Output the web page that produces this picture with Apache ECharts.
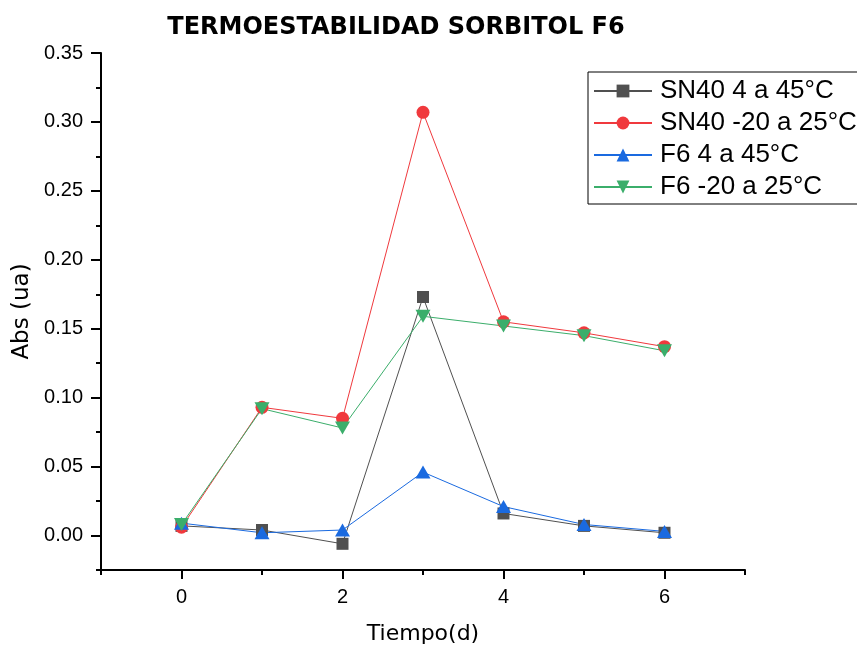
<!DOCTYPE html>
<html>
<head>
<meta charset="utf-8">
<script src="https://cdn.jsdelivr.net/npm/echarts@6/dist/echarts.min.js"></script>
<style>
  html, body { margin: 0; padding: 0; background: #fff; }
  #main { width: 857px; height: 651px; }
</style>
</head>
<body>
<div id="main"></div>
<script>
// datos
var dias = [0, 1, 2, 3, 4, 5, 6];
var sn40_4a45 = [0.007, 0.004, -0.006, 0.173, 0.016, 0.007, 0.002];
var sn40_m20a25 = [0.006, 0.093, 0.085, 0.307, 0.155, 0.147, 0.137];
var f6_4a45 = [0.009, 0.002, 0.004, 0.046, 0.021, 0.008, 0.003];
var f6_m20a25 = [0.008, 0.092, 0.078, 0.159, 0.152, 0.145, 0.134];

var xMayores = [0, 2, 4, 6];
var xMenores = [-1, 1, 3, 5, 7];
var yMayores = [0, 0.05, 0.10, 0.15, 0.20, 0.25, 0.30, 0.35];
var yMenores = [-0.025, 0.025, 0.075, 0.125, 0.175, 0.225, 0.275, 0.325];

function pares(ys) {
    return dias.map(function (d, i) { return [d, ys[i]]; });
}

var fuente = 'DejaVu Sans, sans-serif';
var fuenteArial = 'Liberation Sans, Arial, sans-serif';
var myChart = echarts.init(document.getElementById('main'));

function serie(nombre, ys, color, simbolo, rot, tam) {
    return {
        name: nombre,
        type: 'line',
        data: pares(ys),
        symbol: simbolo,
        symbolSize: tam,
        symbolRotate: rot,
        showAllSymbol: true,
        lineStyle: { color: color, width: 1 },
        itemStyle: { color: color },
        emphasis: { disabled: true },
        z: 3
    };
}

var ejeLinea = { onZero: false, lineStyle: { color: '#000', width: 2 } };

myChart.setOption({
    backgroundColor: '#fff',
    animation: false,
    title: {
        text: 'TERMOESTABILIDAD SORBITOL F6',
        left: 391, top: 11, textAlign: 'center',
        textStyle: { fontFamily: fuente, fontSize: 24, fontWeight: 'bold', color: '#000' }
    },
    legend: {
        left: 588, top: 72,
        orient: 'vertical',
        itemWidth: 58, itemHeight: 16, itemGap: 6,
        padding: [6, 4, 4, 5],
        borderColor: '#000', borderWidth: 1,
        backgroundColor: '#fff',
        textStyle: { fontFamily: fuenteArial, fontSize: 26, lineHeight: 26, color: '#000', padding: [0, 0, 0, 3] },
        data: ['SN40 4 a 45°C', 'SN40 -20 a 25°C', 'F6 4 a 45°C', 'F6 -20 a 25°C']
    },
    grid: { left: 101, right: 112, top: 53, bottom: 81 },
    xAxis: [{
        type: 'value', min: -1, max: 7,
        name: 'Tiempo(d)', nameLocation: 'middle', nameGap: 53,
        nameTextStyle: { fontFamily: fuente, fontSize: 22, color: '#000' },
        axisLine: ejeLinea,
        axisTick: { customValues: xMayores, length: 9, lineStyle: { color: '#000', width: 2 } },
        axisLabel: { customValues: xMayores, fontFamily: fuenteArial, fontSize: 20, color: '#000', margin: 17 },
        splitLine: { show: false }
    }, {
        type: 'value', min: -1, max: 7, position: 'bottom',
        axisLine: { show: false, onZero: false },
        axisTick: { customValues: xMenores, length: 5, lineStyle: { color: '#000', width: 2 } },
        axisLabel: { show: false },
        splitLine: { show: false }
    }],
    yAxis: [{
        type: 'value', min: -0.025, max: 0.35,
        name: 'Abs (ua)', nameLocation: 'middle', nameGap: 67,
        nameTextStyle: { fontFamily: fuente, fontSize: 23, color: '#000' },
        axisLine: ejeLinea,
        axisTick: { customValues: yMayores, length: 10, lineStyle: { color: '#000', width: 2 } },
        axisLabel: {
            customValues: yMayores, fontFamily: fuenteArial, fontSize: 20, color: '#000', margin: 18,
            formatter: function (v) { return v.toFixed(2); }
        },
        splitLine: { show: false }
    }, {
        type: 'value', min: -0.025, max: 0.35, position: 'left',
        axisLine: { show: false, onZero: false },
        axisTick: { customValues: yMenores, length: 5, lineStyle: { color: '#000', width: 2 } },
        axisLabel: { show: false },
        splitLine: { show: false }
    }],
    series: [
        serie('SN40 4 a 45°C', sn40_4a45, '#505050', 'rect', 0, 12),
        serie('SN40 -20 a 25°C', sn40_m20a25, '#f0393d', 'circle', 0, 13),
        serie('F6 4 a 45°C', f6_4a45, '#1a6ae0', 'triangle', 0, [15, 13]),
        serie('F6 -20 a 25°C', f6_m20a25, '#3bae6b', 'triangle', 180, [15, 13])
    ]
});
</script>
</body>
</html>
